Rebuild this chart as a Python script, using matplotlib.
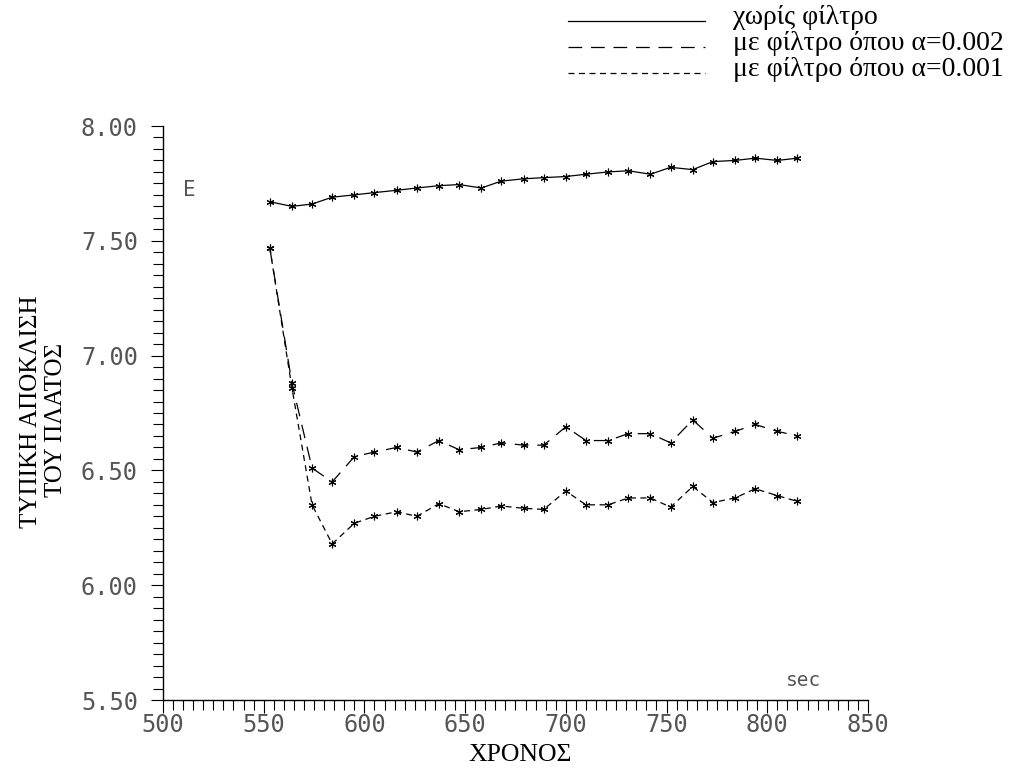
import matplotlib
matplotlib.use("Agg")
import matplotlib.pyplot as plt
from matplotlib.ticker import MultipleLocator, FormatStrFormatter
from matplotlib.lines import Line2D

# ---- data ----
time_sec = [553, 564, 574, 584, 595, 605, 616, 626, 637, 647, 658, 668, 679,
            689, 700, 710, 721, 731, 742, 752, 763, 773, 784, 794, 805, 815]
no_filter = [7.67, 7.65, 7.66, 7.69, 7.70, 7.71, 7.72, 7.73, 7.74, 7.745, 7.73, 7.76, 7.77,
             7.775, 7.78, 7.79, 7.80, 7.805, 7.79, 7.82, 7.81, 7.845, 7.85, 7.86, 7.85, 7.86]
filter_a002 = [7.47, 6.88, 6.51, 6.45, 6.56, 6.58, 6.60, 6.58, 6.63, 6.59, 6.60, 6.62, 6.61,
               6.61, 6.69, 6.63, 6.63, 6.66, 6.66, 6.62, 6.72, 6.64, 6.67, 6.70, 6.67, 6.65]
filter_a001 = [7.47, 6.86, 6.35, 6.18, 6.27, 6.30, 6.32, 6.30, 6.355, 6.32, 6.33, 6.345, 6.335,
               6.33, 6.41, 6.35, 6.35, 6.38, 6.38, 6.34, 6.43, 6.36, 6.38, 6.42, 6.39, 6.365]
legend_labels = ["χωρίς φίλτρο", "με φίλτρο όπου α=0.002", "με φίλτρο όπου α=0.001"]
x_label = "ΧΡΟΝΟΣ"
y_label_lines = ["ΤΥΠΙΚΗ ΑΠΟΚΛΙΣΗ", "ΤΟΥ ΠΛΑΤΟΣ"]

W, H = 1020, 776
fig = plt.figure(figsize=(W / 100, H / 100), dpi=100)
ax = fig.add_axes([163 / W, 1 - 700 / H, (868 - 163) / W, (700 - 126) / H])

serif = ["Liberation Serif", "DejaVu Serif"]
tickfont = "DejaVu Sans Mono"
tickcol = "#555555"

styles = ["-", (0, (11, 7)), (0, (4.8, 3.6))]
mk = dict(marker=(6, 2, 0), markersize=5.5, markeredgewidth=0.8, color="black")
for series, ls in zip([no_filter, filter_a002, filter_a001], styles):
    ax.plot(time_sec, series, linestyle=ls, linewidth=0.9, **mk)

ax.set_xlim(500, 850)
ax.set_ylim(5.5, 8.0)
for s in ("top", "right"):
    ax.spines[s].set_visible(False)
for s in ("left", "bottom"):
    ax.spines[s].set_linewidth(1.0)
    ax.spines[s].set_color("black")

ax.xaxis.set_major_locator(MultipleLocator(50))
ax.xaxis.set_minor_locator(MultipleLocator(5))
ax.yaxis.set_major_locator(MultipleLocator(0.5))
ax.yaxis.set_minor_locator(MultipleLocator(0.05))
ax.yaxis.set_major_formatter(FormatStrFormatter("%.2f"))
ax.tick_params(which="major", direction="out", length=9, width=0.8,
               labelsize=17, labelcolor=tickcol)
ax.tick_params(which="minor", direction="out", length=7, width=0.8)
ax.tick_params(axis="x", which="major", pad=0)
ax.tick_params(axis="y", which="major", pad=9)
for lab in ax.get_xticklabels() + ax.get_yticklabels():
    lab.set_fontfamily(tickfont)

ax.text(513, 7.72, "E", fontsize=15, family=tickfont, color=tickcol,
        ha="center", va="center")
ax.text(818, 5.585, "sec", fontsize=14, family=tickfont, color=tickcol,
        ha="center", va="center")

fig.text(520 / W, 1 - 755 / H, x_label, family=serif,
         fontsize=18.5, ha="center", va="center")
fig.text(31 / W, 1 - 412 / H, y_label_lines[0], family=serif, fontsize=18,
         rotation=90, ha="center", va="center")
fig.text(56 / W, 1 - 420 / H, y_label_lines[1], family=serif, fontsize=18,
         rotation=90, ha="center", va="center")

# legend (lines + labels) at the top right
row_y = [17, 43, 69]
for lab, ls, yy in zip(legend_labels, styles, row_y):
    fig.add_artist(Line2D([568 / W, 705 / W], [1 - (yy + 4) / H, 1 - (yy + 4) / H],
                          transform=fig.transFigure, color="black",
                          linewidth=0.9, linestyle=ls))
    fig.text(733 / W, 1 - yy / H, lab, family=serif, fontsize=20,
             ha="left", va="center")

fig.savefig("out.png", dpi=100, facecolor="white")
